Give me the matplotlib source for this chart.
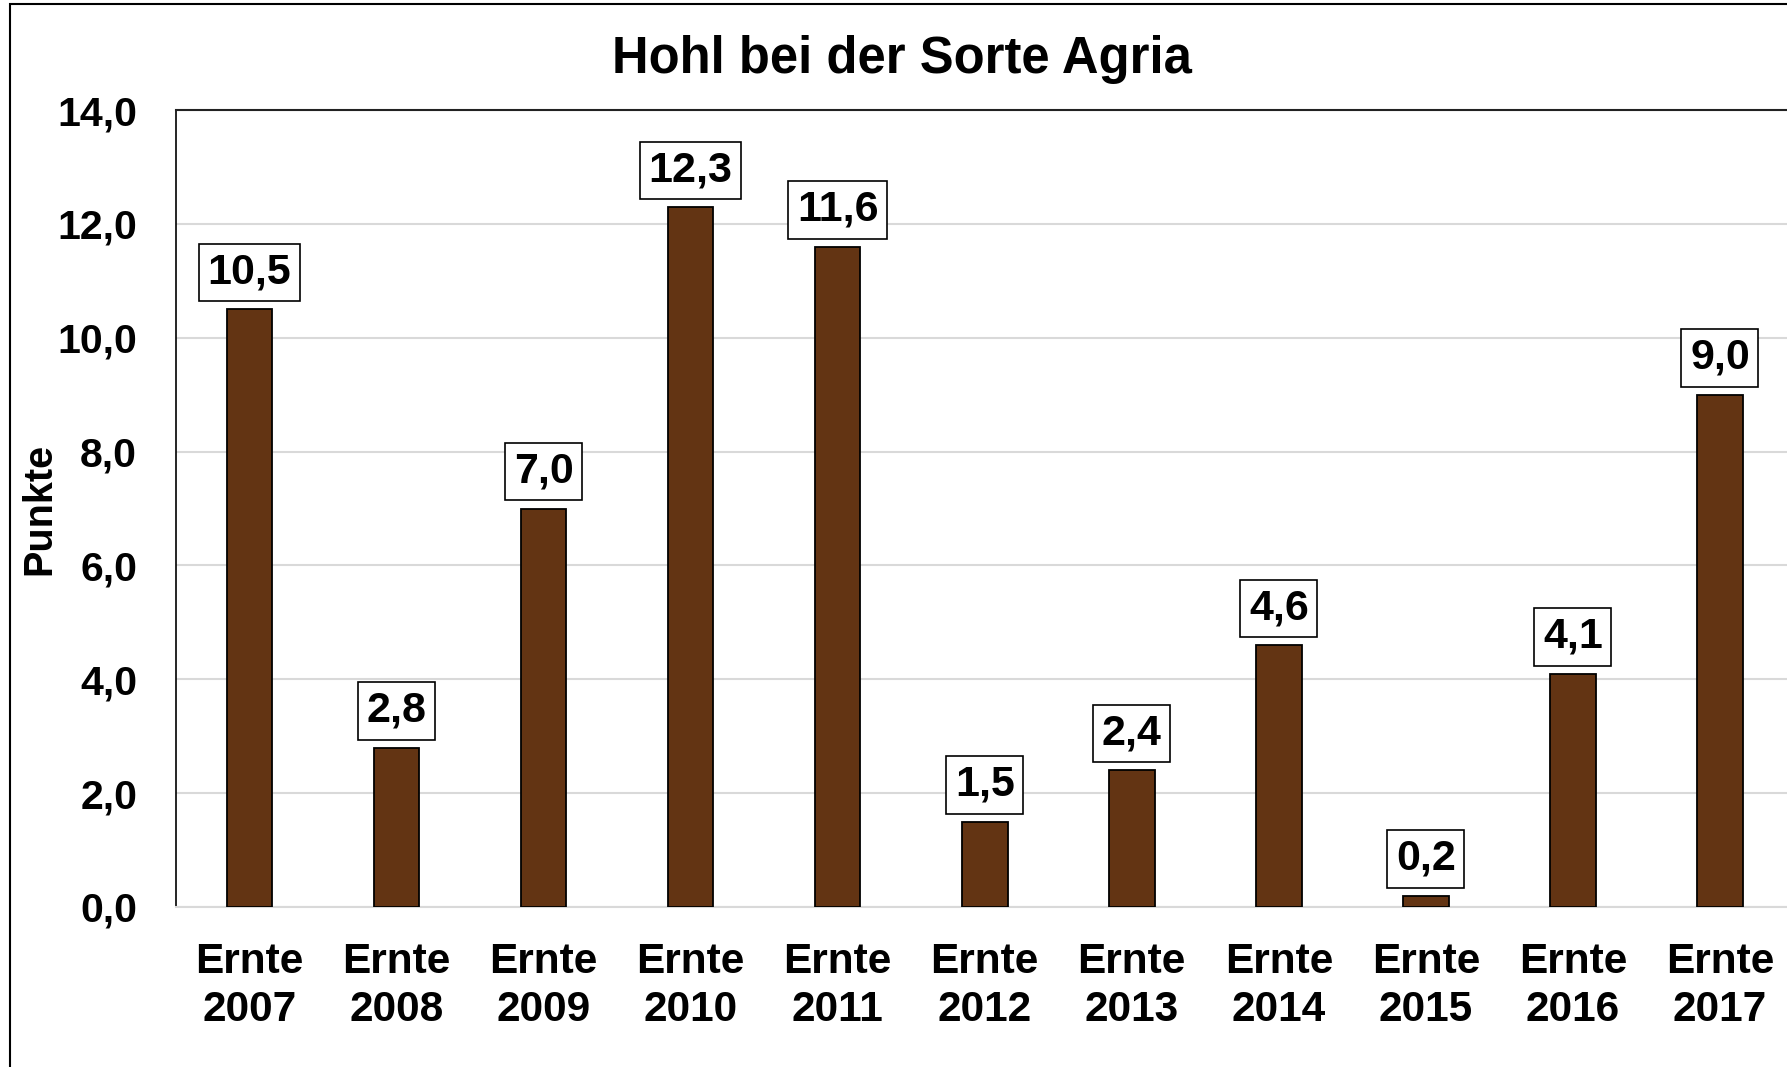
# -*- coding: utf-8 -*-
# Hohl bei der Sorte Agria - Balkendiagramm

import matplotlib.pyplot as plt
from matplotlib.patches import Rectangle

# Daten
jahre = ["2007", "2008", "2009", "2010", "2011", "2012",
         "2013", "2014", "2015", "2016", "2017"]
werte = [10.5, 2.8, 7.0, 12.3, 11.6, 1.5, 2.4, 4.6, 0.2, 4.1, 9.0]
kategorien = ["Ernte\n" + j for j in jahre]
yticks = [0, 2, 4, 6, 8, 10, 12, 14]

plt.rcParams['font.family'] = ['Liberation Sans', 'DejaVu Sans']
plt.rcParams['font.weight'] = 'bold'

fig = plt.figure(figsize=(17.87, 10.67), dpi=100)
ax = fig.add_axes([176 / 1787, 1 - 907 / 1067, (1793.5 - 176) / 1787, (907 - 110) / 1067])

# Rahmen um das ganze Bild
fig.patches.append(Rectangle((10 / 1787, -0.2), 1.2, 1.2 - 4 / 1067,
                             transform=fig.transFigure, fill=False,
                             edgecolor="black", linewidth=1.5))

x = range(len(werte))
ax.bar(x, werte, width=0.31, color="#633413", edgecolor="black",
       linewidth=1.3, zorder=3)

for xi, v in zip(x, werte):
    ax.annotate(("%.1f" % v).replace(".", ","), (xi, v),
                xytext=(0, 12), textcoords="offset points",
                ha="center", va="bottom", fontsize=31, fontweight="bold",
                bbox=dict(boxstyle="square,pad=0.2", fc="white",
                          ec="black", lw=1.2), zorder=4)

ax.set_xlim(-0.5, 10.5)
ax.set_ylim(0, 14)
ax.set_yticks(yticks)
ax.set_yticklabels([("%.1f" % t).replace(".", ",") for t in yticks],
                   fontsize=29.5, fontweight="bold")
ax.set_xticks(list(x))
ax.set_xticklabels(kategorien, fontsize=30.5, fontweight="bold",
                   linespacing=1.27)
ax.tick_params(axis="both", length=0)
ax.tick_params(axis="y", pad=28)
ax.tick_params(axis="x", pad=25)

ax.grid(axis="y", color="#d9d9d9", linewidth=1.5, zorder=0)
ax.spines["bottom"].set_color("#d9d9d9")
ax.spines["bottom"].set_linewidth(1.5)
ax.spines["left"].set_linewidth(1.2)
ax.spines["top"].set_linewidth(1.5)
ax.spines["top"].set_color("#222222")

ax.set_ylabel("Punkte", fontsize=28.5, fontweight="bold")
ax.yaxis.set_label_coords(-0.073, 0.5)

fig.text(902 / 1787, 1 - 59 / 1067, "Hohl bei der Sorte Agria",
         ha="center", va="center", fontsize=36.5, fontweight="bold")

plt.savefig("out.png", dpi=100)
